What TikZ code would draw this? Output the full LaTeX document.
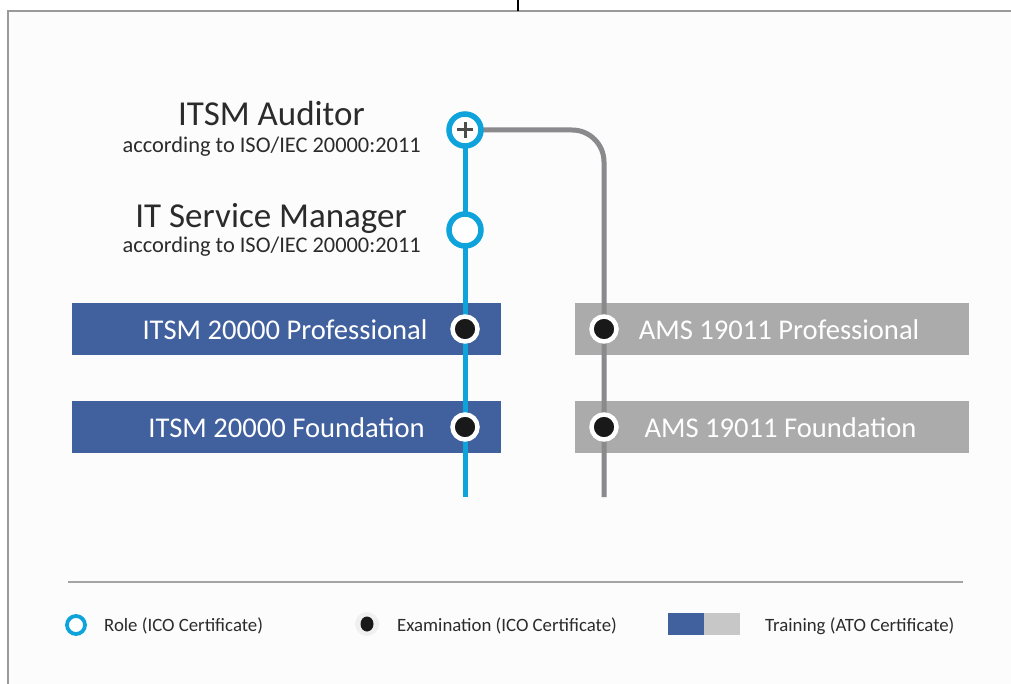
\documentclass[tikz,border=0pt]{standalone}
\usepackage{fontspec}
\usetikzlibrary{shapes.geometric}
\setmainfont{Carlito}
\definecolor{cyanline}{HTML}{0EA3DA}
\definecolor{grayline}{HTML}{8A8A8C}
\definecolor{bluebox}{HTML}{41609E}
\definecolor{graybox}{HTML}{ABABAB}
\definecolor{framec}{HTML}{9A9A9A}
\definecolor{bgc}{HTML}{FCFCFC}
\definecolor{txt}{HTML}{2B2B2B}
\tikzset{
  rolenode/.style={circle, draw=cyanline, line width=5.5pt, fill=white, minimum size=32pt, inner sep=0pt},
  examnode/.style={circle, draw=white, line width=4.5pt, fill=black!90, minimum size=25pt, inner sep=0pt},
  bluetrain/.style={fill=bluebox, draw=none, minimum width=429pt, minimum height=52pt, inner sep=0pt},
  graytrain/.style={fill=graybox, draw=none, minimum width=394pt, minimum height=52pt, inner sep=0pt},
  boxtext/.style={text=white, font=\fontsize{28.6}{32}\selectfont, inner sep=0pt, anchor=base},
  titletext/.style={text=txt, font=\fontsize{35}{40}\selectfont, inner sep=0pt, anchor=base east},
  subtext/.style={text=txt, font=\fontsize{22.4}{26}\selectfont, inner sep=0pt, anchor=base east},
  legendtext/.style={text=txt, font=\fontsize{18.8}{22}\selectfont, inner sep=0pt, anchor=base west},
  cyanroute/.style={draw=cyanline, line width=5pt},
  grayroute/.style={draw=grayline, line width=5pt, rounded corners=32pt},
}
\begin{document}
\begin{tikzpicture}[x=1pt,y=-1pt]
\useasboundingbox (0,0) rectangle (1011,684);
% frame
\fill[white] (0,0) rectangle (1011,684);
\fill[bgc] (8,11) rectangle (1011,684);
\draw[framec, line width=1.2pt] (8,684) -- (8,11) -- (1011,11);
\draw[black, line width=1.3pt] (518,0) -- (518,11);
% training boxes
\node[bluetrain] (b1) at (286.5,329) {};
\node[bluetrain] (b2) at (286.5,427) {};
\node[graytrain] (g1) at (772,329) {};
\node[graytrain] (g2) at (772,427) {};
\node[boxtext] (t1) at (285,339) {ITSM 20000 Professional};
\node[boxtext] (t2) at (286.5,437) {ITSM 20000 Foundation};
\node[boxtext] (t3) at (779,339) {AMS 19011 Professional};
\node[boxtext] (t4) at (780.5,437) {AMS 19011 Foundation};
% route ends
\coordinate (cend) at (465,497);
\coordinate (gend) at (604,497);
% role nodes positions
\coordinate (audc) at (465,130);
\coordinate (smc) at (465,230);
% routes
\draw[cyanroute] (audc) -- (cend);
\draw[grayroute] (audc) -- (604,130) -- (gend);
% roles
\node[rolenode] (aud) at (audc) {};
\draw[black!70, line width=3pt] ([xshift=-8pt]aud.center) -- ([xshift=8pt]aud.center)
  ([yshift=-8pt]aud.center) -- ([yshift=8pt]aud.center);
\node[rolenode] (sm) at (smc) {};
% exams
\node[examnode] (e1) at (465,329) {};
\node[examnode] (e2) at (465,427) {};
\node[examnode] (e3) at (604,329) {};
\node[examnode] (e4) at (604,427) {};
% titles
\node[titletext] (l1) at (365,126) {ITSM Auditor};
\node[subtext] (l1s) at (421,153) {according to ISO/IEC 20000:2011};
\node[titletext] (l2) at (407,228) {IT Service Manager};
\node[subtext] (l2s) at (421,253) {according to ISO/IEC 20000:2011};
% legend
\draw[framec!90, line width=1.2pt] (68,582) -- (963,582);
\node[circle, draw=cyanline, line width=3.8pt, fill=white, minimum size=18pt, inner sep=0pt] (lg1) at (76,625) {};
\node[legendtext] (lt1) at (104,631) {Role (ICO Certificate)};
\node[circle, fill=black!6, minimum size=24pt, inner sep=0pt] (lg2h) at (367,624) {};
\node[ellipse, fill=black!90, minimum width=13pt, minimum height=15pt, inner sep=0pt] (lg2) at (367,624) {};
\node[legendtext] (lt2) at (397,631) {Examination (ICO Certificate)};
\node[fill=bluebox, minimum width=36pt, minimum height=22pt, inner sep=0pt] (lg3a) at (686,624) {};
\node[fill=black!22, minimum width=36pt, minimum height=22pt, inner sep=0pt] (lg3b) at (722,624) {};
\node[legendtext] (lt3) at (765,631) {Training (ATO Certificate)};
\end{tikzpicture}
\end{document}
